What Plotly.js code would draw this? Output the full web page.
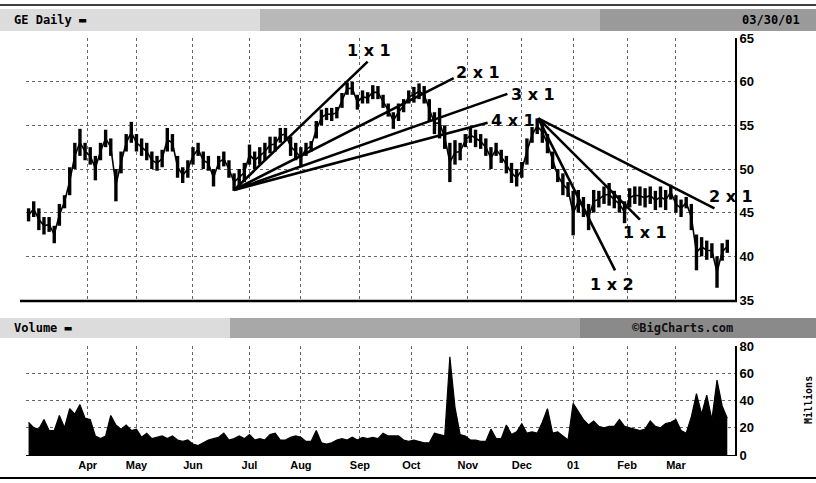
<!DOCTYPE html>
<html>
<head>
<meta charset="utf-8">
<script src="https://cdn.plot.ly/plotly-3.0.1.min.js"></script>
<style>html,body{margin:0;padding:0;background:#fff;}#chart{width:816px;height:483px;}</style>
</head>
<body>
<div id="chart"></div>
<script>
// ---- DATA (GE daily, Mar 2000 - Mar 2001; one sample every 2 trading days) ----
const dayStep = 2;
const priceHigh = [45.5,46.3,45.5,44.5,44.5,43.5,46.0,47.0,50.2,53.0,54.6,53.0,52.5,51.5,53.0,54.5,53.5,50.0,52.0,54.0,
  55.4,54.0,53.5,53.0,52.0,51.5,52.2,54.7,54.0,51.5,50.2,51.0,52.5,53.0,52.0,51.5,50.0,51.5,52.0,51.0,
  49.5,50.0,50.7,52.8,52.0,52.5,53.0,53.7,53.7,54.7,54.7,53.7,53.0,52.5,53.0,53.2,55.5,56.8,57.0,57.0,
  57.1,58.7,59.9,60.0,58.5,59.0,58.8,59.6,59.5,58.5,57.5,56.5,57.5,58.0,59.0,59.4,59.8,59.5,58.0,56.5,
  57.0,55.0,53.0,53.3,53.0,54.0,54.8,54.5,54.0,53.5,52.5,53.0,52.2,51.5,50.7,50.0,50.8,53.5,54.8,55.8,
  55.5,54.0,52.0,50.0,49.5,48.5,47.5,47.6,46.8,46.0,47.6,47.5,48.0,48.4,47.5,47.0,46.3,47.8,48.0,48.0,
  47.8,48.0,47.5,48.0,47.6,48.2,47.0,46.5,46.8,46.0,42.5,42.2,41.8,41.5,40.0,41.5,41.9];
const priceLow = [44.0,44.5,43.0,42.5,42.8,41.5,43.5,45.5,47.0,50.0,51.5,51.0,50.5,48.7,51.0,52.5,51.5,46.3,49.5,52.0,
  53.0,52.0,51.5,51.0,50.0,49.8,50.2,52.0,52.0,49.0,48.4,49.0,50.5,51.5,50.0,49.8,48.0,50.0,50.3,49.0,
  47.5,48.0,48.5,50.5,50.0,50.5,51.0,51.8,52.0,53.0,53.3,51.5,51.0,50.2,51.5,52.0,53.5,55.0,55.6,55.5,
  55.8,57.0,58.5,58.5,56.8,57.5,57.5,58.0,58.0,57.0,56.0,54.6,55.5,56.5,57.5,57.6,58.0,57.5,55.5,54.0,
  53.5,52.3,48.5,50.5,51.0,52.5,53.0,52.5,52.3,51.5,50.0,51.5,50.7,49.5,48.4,48.0,49.0,50.5,53.0,54.0,
  53.0,51.8,50.0,48.5,47.0,46.8,42.4,45.0,44.5,43.0,45.0,45.6,46.0,45.8,45.5,45.0,43.8,45.6,46.0,45.8,
  45.6,46.0,45.3,45.6,45.3,46.5,45.0,44.5,45.5,43.0,38.4,40.0,39.6,39.8,36.4,39.5,40.4];
const volumeMillions = [24,20,19,26,18,18,29,20,34,30,37,27,26,14,12,14,29,22,19,22,
  18,19,13,16,12,13,14,12,14,11,10,11,8,7,9,11,12,13,16,11,
  12,14,12,15,11,12,11,15,16,11,11,13,14,13,10,10,18,9,8,9,
  11,12,11,13,11,13,12,13,12,16,14,14,14,11,10,11,10,9,9,16,
  15,14,72,35,15,14,11,11,10,10,19,12,12,22,15,17,23,16,17,16,
  24,34,16,17,14,11,38,32,26,22,25,21,20,21,21,26,21,20,19,18,
  19,25,21,20,23,24,26,18,16,28,45,30,44,26,55,36,27];
// month starts, in trading days from 1 Mar 2000
const monthTickDays = [23,42,64,86,106,129,149,171,192,212,233,252];
const monthTickText = ["Apr","May","Jun","Jul","Aug","Sep","Oct","Nov","Dec","01","Feb","Mar"];
const priceTicks = [35,40,45,50,55,60,65];
const volumeTicks = [0,20,40,60,80];
// Gann fan lines: [startDay, startPrice] -> [endDay, endPrice]
const fanUpStart = [80, 47.6];
const fanUpEnds = {"1x1":[132,62.3], "2x1":[165.5,60.4], "3x1":[186.4,58.6], "4x1":[178.7,55.3]};
const fanDownStart = [198.4, 55.8];
const fanDownEnds = {"2x1":[267,45.5], "1x1":[238,44.2], "1x2":[228.3,38.4]};
// fan labels: [text, day, price]
const fanLabels = [["1 x 1",132.6,63.6],["2 x 1",174.8,61.0],["3 x 1",196.5,58.5],["4 x 1",188.4,55.6],
                   ["2 x 1",273.5,46.8],["1 x 1",240,42.7],["1 x 2",227,36.8]];
const headerTitle = "GE Daily";
const headerDate = "03/30/01";
const volumeTitle = "Volume";
const sourceText = "BigCharts.com";

// ---- BUILD ----
const days = priceHigh.map((_, i) => i * dayStep);
const barX = [], barY = [];
days.forEach((d, i) => { barX.push(d, d, null); barY.push(priceLow[i], priceHigh[i], null); });
const midY = days.map((_, i) => (priceLow[i] + priceHigh[i]) / 2);

const traces = [];
traces.push({type:'scatter', mode:'lines', x:days, y:midY, xaxis:'x', yaxis:'y',
  line:{color:'#000', width:1.6}, hoverinfo:'skip', showlegend:false});
traces.push({type:'scatter', mode:'lines', x:barX, y:barY, xaxis:'x', yaxis:'y',
  line:{color:'#000', width:3.4}, hoverinfo:'skip', showlegend:false});
function fanTrace(start, end){
  return {type:'scatter', mode:'lines', x:[start[0], end[0]], y:[start[1], end[1]], xaxis:'x', yaxis:'y',
    line:{color:'#000', width:2.6}, hoverinfo:'skip', showlegend:false, cliponaxis:false};
}
Object.values(fanUpEnds).forEach(e => traces.push(fanTrace(fanUpStart, e)));
Object.values(fanDownEnds).forEach(e => traces.push(fanTrace(fanDownStart, e)));
traces.push({type:'scatter', mode:'lines', x:days, y:volumeMillions, xaxis:'x', yaxis:'y2',
  fill:'tozeroy', fillcolor:'#000', line:{color:'#000', width:1.2, shape:'linear'}, hoverinfo:'skip', showlegend:false});

// pixel helpers for decorative page elements
const L = 26, R = 735, T = 38, B = 455;
const px = p => (p - L) / (R - L);
const py = p => (B - p) / (B - T);

const bold = {family:'Liberation Sans, Arial, sans-serif', size:13, color:'#000', weight:700};
const annotations = fanLabels.map(f => ({x:f[1], y:f[2], xref:'x', yref:'y', text:f[0], showarrow:false,
  font:{family:'DejaVu Sans, sans-serif', size:16, color:'#000', weight:700}}));
annotations.push(
  {xref:'paper', yref:'paper', x:px(12), y:py(20), xanchor:'left', yanchor:'middle', text:headerTitle + ' ▬', showarrow:false,
   font:{family:'DejaVu Sans Mono, monospace', size:12, color:'#000', weight:700}},
  {xref:'paper', yref:'paper', x:px(802), y:py(20), xanchor:'right', yanchor:'middle', text:headerDate, showarrow:false,
   font:{family:'DejaVu Sans Mono, monospace', size:12, color:'#000', weight:700}},
  {xref:'paper', yref:'paper', x:px(12), y:py(328), xanchor:'left', yanchor:'middle', text:volumeTitle + ' ▬', showarrow:false,
   font:{family:'DejaVu Sans Mono, monospace', size:12, color:'#000', weight:700}},
  {xref:'paper', yref:'paper', x:px(735), y:py(328), xanchor:'right', yanchor:'middle', text:'©' + sourceText, showarrow:false,
   font:{family:'DejaVu Sans Mono, monospace', size:12, color:'#111', weight:700}},
  {xref:'paper', yref:'paper', x:px(808), y:py(400), xanchor:'center', yanchor:'middle', text:'Millions', textangle:-90, showarrow:false,
   font:{family:'DejaVu Sans Mono, monospace', size:10, color:'#000', weight:700}}
);

const shapes = [
  {type:'line', xref:'paper', yref:'paper', x0:px(0), x1:px(816), y0:py(5), y1:py(5), line:{color:'#000', width:1.5}},
  {type:'rect', xref:'paper', yref:'paper', x0:px(0), x1:px(260), y0:py(9), y1:py(31), fillcolor:'#dcdcdc', line:{width:0}, layer:'below'},
  {type:'rect', xref:'paper', yref:'paper', x0:px(260), x1:px(600), y0:py(9), y1:py(31), fillcolor:'#b8b8b8', line:{width:0}, layer:'below'},
  {type:'rect', xref:'paper', yref:'paper', x0:px(600), x1:px(816), y0:py(9), y1:py(31), fillcolor:'#9a9a9a', line:{width:0}, layer:'below'},
  {type:'rect', xref:'paper', yref:'paper', x0:px(0), x1:px(230), y0:py(318), y1:py(338), fillcolor:'#dcdcdc', line:{width:0}, layer:'below'},
  {type:'rect', xref:'paper', yref:'paper', x0:px(230), x1:px(580), y0:py(318), y1:py(338), fillcolor:'#a8a8a8', line:{width:0}, layer:'below'},
  {type:'rect', xref:'paper', yref:'paper', x0:px(580), x1:px(816), y0:py(318), y1:py(338), fillcolor:'#8a8a8a', line:{width:0}, layer:'below'},
  {type:'line', xref:'paper', yref:'paper', x0:px(20), x1:px(737), y0:py(301), y1:py(301), line:{color:'#000', width:2.5}},
  {type:'line', xref:'paper', yref:'paper', x0:px(0), x1:px(816), y0:py(478), y1:py(478), line:{color:'#000', width:2}}
];

const gridStyle = {showgrid:true, gridcolor:'#666', griddash:'dot', gridwidth:1};
const layout = {
  width:816, height:483, margin:{l:L, r:816-R, t:T, b:483-B},
  paper_bgcolor:'#fff', plot_bgcolor:'#fff', showlegend:false,
  xaxis:Object.assign({range:[-1,275], anchor:'y2', tickmode:'array', tickvals:monthTickDays, ticktext:monthTickText,
    ticks:'', tickfont:Object.assign({}, bold, {size:11}), showline:true, linecolor:'#000', linewidth:1, zeroline:false, fixedrange:true}, gridStyle),
  yaxis:Object.assign({domain:[py(300), 1], range:[35,65], side:'right', tickmode:'array', tickvals:priceTicks,
    ticks:'', tickfont:bold, showline:true, linecolor:'#000', linewidth:2, zeroline:false, fixedrange:true}, gridStyle),
  yaxis2:Object.assign({domain:[0, py(346)], range:[0,80], side:'right', tickmode:'array', tickvals:volumeTicks,
    ticks:'', tickfont:bold, showline:true, linecolor:'#000', linewidth:2, zeroline:false, fixedrange:true}, gridStyle),
  annotations:annotations, shapes:shapes
};
Plotly.newPlot('chart', traces, layout, {staticPlot:true, displayModeBar:false});
</script>
</body>
</html>
